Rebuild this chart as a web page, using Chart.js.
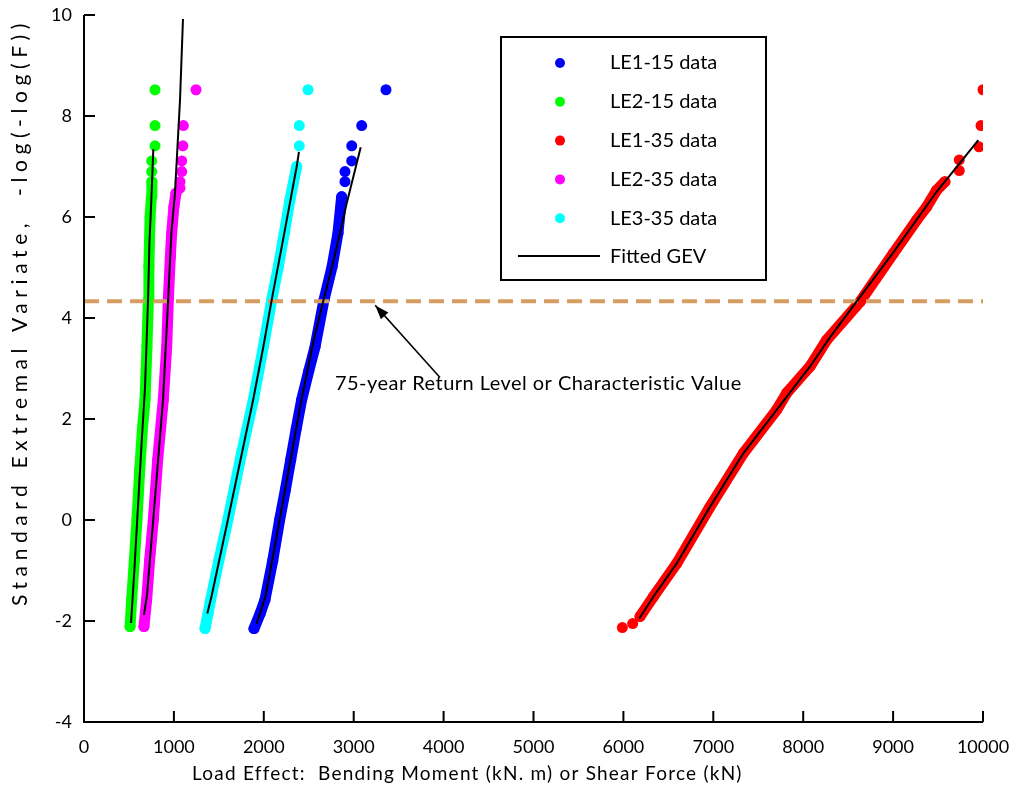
<!DOCTYPE html>
<html>
<head>
<meta charset="utf-8">
<script src="https://cdn.jsdelivr.net/npm/chart.js@4.4.1/dist/chart.umd.min.js"></script>
<style>
  body { margin: 0; background: #fff; }
  canvas { display: block; }
</style>
</head>
<body>
<canvas id="gevChart" width="1009" height="799"></canvas>
<script>
// ranked load effects [value, -log(-log(F))], dense part of each sample
const le1_15Band = [[1891,-2.15],[1960,-1.85],[2013,-1.58],[2100,-0.8],[2176,0],[2240,0.6],[2300,1.2],[2360,1.8],[2421,2.38],[2500,2.95],[2570,3.43],[2670,4.36],[2760,5.02],[2825,5.68],[2866,6.4]];
const le2_15Band = [[512,-2.11],[530,-1.58],[560,-0.8],[589,0],[620,1.0],[650,1.8],[679,2.38],[700,3.43],[716,4.36],[722,5.02],[735,6.0],[750,6.4],[755,6.7]];
const le1_35Band = [[6185,-1.91],[6333,-1.52],[6593,-0.86],[6963,0.26],[7334,1.32],[7705,2.18],[7815,2.51],[8076,3.04],[8260,3.56],[8632,4.32],[9003,5.28],[9262,5.94],[9373,6.2],[9484,6.53],[9577,6.7]];
const le2_35Band = [[667,-2.11],[697,-1.58],[730,-0.8],[771,0],[820,1.2],[882,2.38],[920,3.43],[938,4.36],[960,5.2],[975,5.68],[1000,6.2],[1023,6.47]];
const le3_35Band = [[1346,-2.15],[1380,-1.85],[1409,-1.58],[1500,-0.8],[1600,0],[1750,1.3],[1884,2.38],[1995,3.43],[2088,4.36],[2162,5.02],[2228,5.68],[2291,6.34],[2366,7.0]];

// isolated extremes at either end of each sample
const le1_15Tail = [[2903,6.7],[2903,6.9],[2978,7.11],[2978,7.41],[3089,7.81],[3359,8.52]];
const le2_15Tail = [[753,6.9],[753,7.11],[790,7.41],[790,7.81],[790,8.52]];
const le1_35Tail = [[5988,-2.13],[6103,-2.05],[9736,6.92],[9736,7.13],[9956,7.39],[9978,7.81],[10000,8.52]];
const le2_35Tail = [[1068,6.57],[1068,6.7],[1087,6.9],[1087,7.11],[1100,7.41],[1105,7.81],[1246,8.52]];
const le3_35Tail = [[2395,7.41],[2395,7.81],[2492,8.52]];

// fitted GEV quantile curves
const le1_15Fit = [[1921,-2.05],[2020,-1.5],[2176,0],[2421,2.4],[2560,3.6],[2665,4.36],[2760,5.02],[2850,5.7],[2922,6.27],[3078,7.38]];
const le2_15Fit = [[523,-2.04],[560,-1.0],[592,0],[640,1.5],[678,2.6],[712,4.33],[728,5.5],[748,6.3],[771,7.34]];
const le1_35Fit = [[6177,-1.95],[6333,-1.52],[6593,-0.86],[6963,0.26],[7334,1.32],[7705,2.18],[8076,3.04],[8300,3.62],[8595,4.33],[9003,5.3],[9484,6.5],[9948,7.52]];
const le2_35Fit = [[667,-1.88],[700,-1.5],[770,0],[880,2.4],[935,4.33],[972,5.68],[1012,6.47],[1068,8.32],[1101,9.92]];
const le3_35Fit = [[1372,-1.85],[1420,-1.5],[1600,0],[1884,2.4],[1995,3.43],[2088,4.36],[2228,5.68],[2366,7.0],[2391,7.29]];

const seriesLabels = ["LE1-15 data", "LE2-15 data", "LE1-35 data", "LE2-35 data", "LE3-35 data"];
const seriesColors = ["#0000ff", "#00ff00", "#ff0000", "#ff00ff", "#00ffff"];
const fitLabel = "Fitted GEV";

const returnLevel = 4.33;
const returnLabel = "75-year Return Level or Characteristic Value";

const xTitle = "Load Effect:  Bending Moment (kN. m) or Shear Force (kN)";
const yTitle = "Standard Extremal Variate,  -log(-log(F))";

const xTicks = [0, 1000, 2000, 3000, 4000, 5000, 6000, 7000, 8000, 9000, 10000];
const yTicks = [-4, -2, 0, 2, 4, 6, 8, 10];

const bands = [le1_15Band, le2_15Band, le1_35Band, le2_35Band, le3_35Band];
const tails = [le1_15Tail, le2_15Tail, le1_35Tail, le2_35Tail, le3_35Tail];
const fits = [le1_15Fit, le2_15Fit, le1_35Fit, le2_35Fit, le3_35Fit];

const FONT = "Lato, 'Open Sans', sans-serif";
const toXY = arr => arr.map(p => ({ x: p[0], y: p[1] }));

const datasets = [];
fits.forEach(f => {
  datasets.push({
    label: fitLabel, data: toXY(f), showLine: true, borderColor: "#000",
    borderWidth: 2, pointRadius: 0, tension: 0, order: 1
  });
});
datasets.push({
  label: returnLabel,
  data: [{ x: 0, y: returnLevel }, { x: 10000, y: returnLevel }],
  showLine: true, borderColor: "#d69d62", borderWidth: 4, borderDash: [15, 8],
  pointRadius: 0, order: 2
});
bands.forEach((b, i) => {
  datasets.push({
    label: seriesLabels[i], data: toXY(b), showLine: true,
    borderColor: seriesColors[i], backgroundColor: seriesColors[i],
    borderWidth: 11, borderCapStyle: "round", borderJoinStyle: "round",
    pointRadius: 5.5, pointBorderWidth: 0, order: 3
  });
  datasets.push({
    label: seriesLabels[i], data: toXY(tails[i]), showLine: false,
    backgroundColor: seriesColors[i], pointRadius: 5.5, pointBorderWidth: 0, order: 3
  });
});

// text stretched to a given length
function spreadText(ctx, text, x, y, width) {
  ctx.letterSpacing = "0px";
  const w0 = ctx.measureText(text).width;
  ctx.letterSpacing = Math.max(0, (width - w0) / text.length) + "px";
  ctx.fillText(text, x, y);
  ctx.letterSpacing = "0px";
}

// axes with inward ticks, legend box, titles and the return-level note
const decorations = {
  id: "decorations",
  afterDraw(chart) {
    const { ctx, chartArea: a } = chart;
    const x = chart.scales.x, y = chart.scales.y;
    ctx.save();
    ctx.strokeStyle = "#000";
    ctx.lineWidth = 2;
    ctx.beginPath();
    ctx.moveTo(a.left, a.top);
    ctx.lineTo(a.left, a.bottom);
    ctx.lineTo(a.right, a.bottom);
    yTicks.forEach(v => {
      const py = y.getPixelForValue(v);
      ctx.moveTo(a.left, py);
      ctx.lineTo(a.left + 11, py);
    });
    xTicks.forEach(v => {
      const px = x.getPixelForValue(v);
      ctx.moveTo(px, a.bottom);
      ctx.lineTo(px, a.bottom - 11);
    });
    ctx.stroke();

    // return level note with arrow
    const tipX = x.getPixelForValue(3240), tipY = y.getPixelForValue(4.25);
    const tailX = x.getPixelForValue(3960), tailY = y.getPixelForValue(2.82);
    ctx.lineWidth = 1.5;
    ctx.beginPath();
    ctx.moveTo(tailX, tailY);
    ctx.lineTo(tipX, tipY);
    ctx.stroke();
    const ang = Math.atan2(tipY - tailY, tipX - tailX);
    ctx.fillStyle = "#000";
    ctx.beginPath();
    ctx.moveTo(tipX, tipY);
    ctx.lineTo(tipX - 14 * Math.cos(ang) + 5 * Math.sin(ang), tipY - 14 * Math.sin(ang) - 5 * Math.cos(ang));
    ctx.lineTo(tipX - 14 * Math.cos(ang) - 5 * Math.sin(ang), tipY - 14 * Math.sin(ang) + 5 * Math.cos(ang));
    ctx.closePath();
    ctx.fill();
    ctx.font = "20px " + FONT;
    ctx.textBaseline = "middle";
    ctx.textAlign = "left";
    spreadText(ctx, returnLabel, x.getPixelForValue(2792), y.getPixelForValue(2.71), 407);

    // legend
    ctx.lineWidth = 2;
    ctx.strokeRect(501, 37, 265, 243);
    ctx.font = "20px " + FONT;
    seriesLabels.forEach((lab, i) => {
      const cy = 63 + i * 38.8;
      ctx.fillStyle = seriesColors[i];
      ctx.beginPath();
      ctx.arc(560, cy, 5, 0, Math.PI * 2);
      ctx.fill();
      ctx.fillStyle = "#000";
      spreadText(ctx, lab, 610, cy, 107);
    });
    ctx.beginPath();
    ctx.moveTo(518, 256);
    ctx.lineTo(600, 256);
    ctx.stroke();
    spreadText(ctx, fitLabel, 610, 257, 92);

    // axis titles
    ctx.font = "19px " + FONT;
    spreadText(ctx, xTitle, 192, 774, 550);
    ctx.translate(20, 0);
    ctx.rotate(-Math.PI / 2);
    ctx.font = "21px " + FONT;
    spreadText(ctx, yTitle, -606, 0, 588);
    ctx.restore();
  }
};

new Chart(document.getElementById("gevChart"), {
  type: "scatter",
  data: { datasets },
  options: {
    responsive: false,
    animation: false,
    layout: { padding: { top: 15, right: 26, left: 0, bottom: 0 } },
    plugins: { legend: { display: false }, tooltip: { enabled: false } },
    scales: {
      x: {
        type: "linear", min: 0, max: 10000,
        afterBuildTicks: s => { s.ticks = xTicks.map(v => ({ value: v })); },
        afterFit: s => { s.height = 77; s.paddingLeft = 0; s.paddingRight = 0; },
        grid: { display: false, drawTicks: false },
        border: { display: false },
        ticks: {
          color: "#000", font: { family: FONT, size: 18 }, padding: 14, maxRotation: 0,
          callback: v => String(v)
        }
      },
      y: {
        type: "linear", min: -4, max: 10,
        afterBuildTicks: s => { s.ticks = yTicks.map(v => ({ value: v })); },
        afterFit: s => { s.width = 84; s.paddingTop = 0; s.paddingBottom = 0; },
        grid: { display: false, drawTicks: false },
        border: { display: false },
        ticks: { color: "#000", font: { family: FONT, size: 18 }, padding: 12 }
      }
    }
  },
  plugins: [decorations]
});
</script>
</body>
</html>
